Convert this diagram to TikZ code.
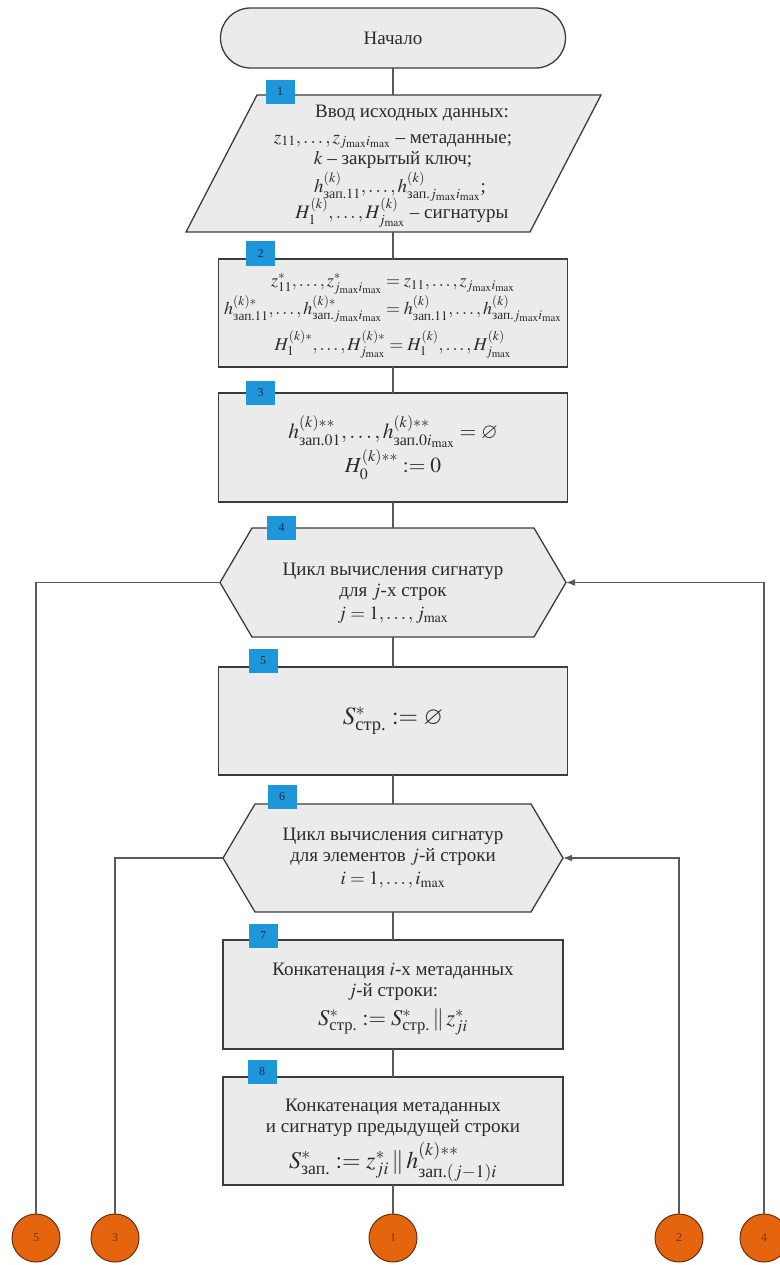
\documentclass[tikz,border=0pt]{standalone}
\usepackage{amsmath}
\usepackage{mathptmx}
\usepackage{amssymb}
\usepackage{fontspec}
\setmainfont{Liberation Serif}
\usetikzlibrary{calc,arrows.meta}
\definecolor{boxf}{HTML}{EBEBEB}
\definecolor{boxd}{HTML}{3C3C3C}
\definecolor{linec}{HTML}{5A5A5A}
\definecolor{tagc}{HTML}{1E97DA}
\definecolor{tagt}{HTML}{1A2A40}
\definecolor{circf}{HTML}{E5650F}
\definecolor{circd}{HTML}{6A2C0C}
\definecolor{circt}{HTML}{7A3308}
\definecolor{txtc}{HTML}{2A2A2A}
\newcommand{\fs}[1]{\fontsize{#1}{#1}\selectfont}
\tikzset{
  shp/.style={draw=boxd, line width=1.3pt, fill=boxf},
  txt/.style={align=center, inner sep=0pt, text=txtc, font=\fontsize{19}{21}\selectfont},
  tag/.style={fill=tagc, minimum width=29pt, minimum height=24pt, inner sep=0pt, font=\fontsize{12}{12}\selectfont, text=tagt},
  conn/.style={draw=linec, line width=1.2pt},
  arr/.style={conn, -{Latex[length=9pt,width=7pt]}},
  con/.style={circle, fill=circf, draw=circd, line width=1pt, minimum size=48pt, inner sep=0pt, font=\fontsize{12}{12}\selectfont, text=circt},
}
\begin{document}
\begin{tikzpicture}[x=1pt,y=-1pt]
\useasboundingbox (0,0) rectangle (779,1265);
% shapes
\draw[shp, rounded corners=30pt] (220.5,8) rectangle (565.5,68);
\draw[shp] (257,95) -- (601,95) -- (530,232) -- (186,232) -- cycle;
\draw[shp] (218.5,259) rectangle (567.5,367);
\draw[shp] (218.5,393) rectangle (567.5,502);
\draw[shp] (220,582.5) -- (252,528) -- (534,528) -- (566,582.5) -- (534,637) -- (252,637) -- cycle;
\draw[shp] (218.5,667) rectangle (567.5,775);
\draw[shp] (223,858) -- (255,804) -- (531,804) -- (563,858) -- (531,912) -- (255,912) -- cycle;
\draw[shp] (223,940) rectangle (563,1049);
\draw[shp] (223,1077) rectangle (563,1185);
% text nodes (invisible frames)
\node[txt, minimum width=345pt, minimum height=60pt] (start) at (393,38) {Начало};
\node[minimum width=414pt, minimum height=137pt, inner sep=0pt] (b1) at (393,163.5) {};
\node[txt] (b1t) at (393,166) {\hspace*{38pt}Ввод исходных данных:\\[5pt]
$z_{11},\ldots,z_{j_{\max}i_{\max}}$ -- метаданные;\hspace*{22pt}\\[0pt]
$k$ -- закрытый ключ;\\[3pt]
\hspace*{14pt}$h^{(k)}_{\text{зап.}11},\ldots,h^{(k)}_{\text{зап.}j_{\max}i_{\max}}$;\\[-4pt]
\hspace*{18pt}$H^{(k)}_1,\ldots,H^{(k)}_{j_{\max}}$ -- сигнатуры};
\node[minimum width=349pt, minimum height=108pt, inner sep=0pt] (b2) at (393,313) {};
\node[txt, font=\fs{18}] (b2t) at (393,316) {%
$z^*_{11},\ldots,z^*_{j_{\max}i_{\max}}=z_{11},\ldots,z_{j_{\max}i_{\max}}$\\[0pt]
$h^{(k)*}_{\text{зап.}11},\ldots,h^{(k)*}_{\text{зап.}j_{\max}i_{\max}}=h^{(k)}_{\text{зап.}11},\ldots,h^{(k)}_{\text{зап.}j_{\max}i_{\max}}$\\[7pt]
$H^{(k)*}_1,\ldots,H^{(k)*}_{j_{\max}}=H^{(k)}_1,\ldots,H^{(k)}_{j_{\max}}$};
\node[txt, font=\fs{21.5}, minimum width=349pt, minimum height=109pt] (b3) at (393,447.5) {%
$h^{(k)**}_{\text{зап.}01},\ldots,h^{(k)**}_{\text{зап.}0i_{\max}}=\varnothing$\\[0pt]
$H^{(k)**}_0:=0$};
\node[minimum width=346pt, minimum height=109pt, inner sep=0pt] (b4) at (393,582.5) {};
\node[txt] (b4t) at (393,593) {Цикл вычисления сигнатур\\
для $j$-х строк\\[2pt]
$j=1,\ldots,j_{\max}$};
\node[txt, font=\fs{25}, minimum width=349pt, minimum height=108pt] (b5) at (393,721) {$S^*_{\text{стр.}}:=\varnothing$};
\node[txt, minimum width=340pt, minimum height=108pt] (b6) at (393,858) {Цикл вычисления сигнатур\\
для элементов $j$-й строки\\[2pt]
$i=1,\ldots,i_{\max}$};
\node[minimum width=340pt, minimum height=109pt, inner sep=0pt] (b7) at (393,994.5) {};
\node[txt] (b7t) at (393,999) {Конкатенация $i$-х метаданных\\
$j$-й строки:\\[8pt]
{\fs{22.5}$S^*_{\text{стр.}}:=S^*_{\text{стр.}}\,\|\,z^*_{ji}$}};
\node[minimum width=340pt, minimum height=108pt, inner sep=0pt] (b8) at (393,1131) {};
\node[txt] (b8t) at (393,1140) {Конкатенация метаданных\\
и сигнатур предыдущей строки\\[5pt]
{\fs{24}$S^*_{\text{зап.}}:=z^*_{ji}\,\|\,h^{(k)**}_{\text{зап.}(j-1)i}$}};
% tags
\node[tag] (t1) at (280,92) {1};
\node[tag] (t2) at (260.5,253.5) {2};
\node[tag] (t3) at (260.5,393) {3};
\node[tag] (t4) at (281.5,527.5) {4};
\node[tag] (t5) at (263,661) {5};
\node[tag] (t6) at (282,797) {6};
\node[tag] (t7) at (263,936) {7};
\node[tag] (t8) at (262,1072) {8};
% connector circles
\node[con] (c1) at (393,1238) {1};
\node[con] (c5) at (36,1238) {5};
\node[con] (c3) at (115,1238) {3};
\node[con] (c2) at (679,1238) {2};
\node[con] (c4) at (764,1238) {4};
% connectors
\draw[conn] (start.south) -- (b1.north);
\draw[conn] (b1.south) -- (b2.north);
\draw[conn] (b2.south) -- (b3.north);
\draw[conn] (b3.south) -- (b4.north);
\draw[conn] (b4.south) -- (b5.north);
\draw[conn] (b5.south) -- (b6.north);
\draw[conn] (b6.south) -- (b7.north);
\draw[conn] (b7.south) -- (b8.north);
\draw[conn] (b8.south) -- (c1.north);
\draw[conn] (b4.west) -| (c5.north);
\draw[arr] (c4.north) |- (b4.east);
\draw[conn] (b6.west) -| (c3.north);
\draw[arr] (c2.north) |- (b6.east);
\end{tikzpicture}
\end{document}
